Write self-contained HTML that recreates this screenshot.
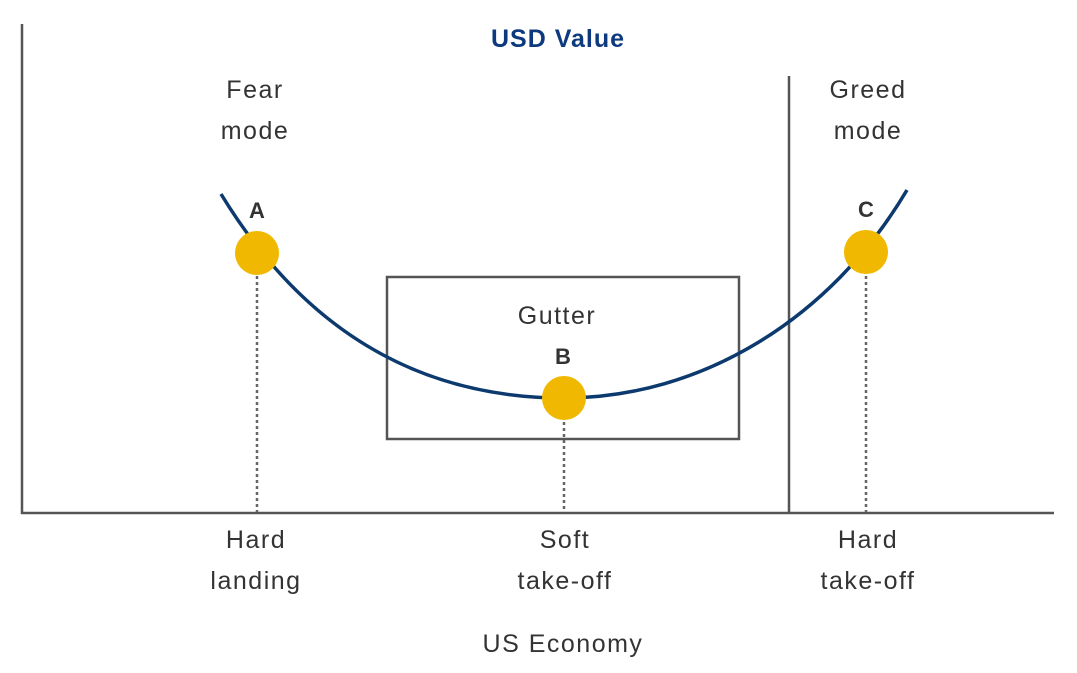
<!DOCTYPE html>
<html><head><style>
body{margin:0;background:#fff;}
svg text{font-family:"Liberation Sans",sans-serif;}
</style></head><body>
<svg width="1077" height="668" viewBox="0 0 1077 668" xmlns="http://www.w3.org/2000/svg">
<rect width="1077" height="668" fill="#fff"/>
<g stroke="#555" stroke-width="2.5" fill="none">
<line x1="22" y1="24" x2="22" y2="514"/>
<line x1="21" y1="513" x2="1054" y2="513"/>
<line x1="789" y1="76" x2="789" y2="513"/>
<rect x="387" y="277" width="352" height="162"/>
</g>
<g stroke="#666" stroke-width="2.5" stroke-dasharray="3,3">
<line x1="257" y1="270" x2="257" y2="512"/>
<line x1="564" y1="416" x2="564" y2="512"/>
<line x1="866" y1="270" x2="866" y2="512"/>
</g>
<path d="M221,194 C310,340 430,398 564,398 C700,398 830,320 907,190" stroke="#0d3a6e" stroke-width="3.5" fill="none"/>
<g fill="#f0b800">
<circle cx="257" cy="253" r="22"/>
<circle cx="564" cy="398" r="22"/>
<circle cx="866" cy="252" r="22"/>
</g>
<g font-size="25" fill="#333" text-anchor="middle" letter-spacing="1.5">
<text x="558" y="47" fill="#0d3a7e" font-weight="bold" letter-spacing="1">USD Value</text>
<text x="255" y="98">Fear</text>
<text x="255" y="139">mode</text>
<text x="868" y="98">Greed</text>
<text x="868" y="139">mode</text>
<text x="557" y="324">Gutter</text>
<text x="256" y="548">Hard</text>
<text x="256" y="589">landing</text>
<text x="565" y="548">Soft</text>
<text x="565" y="589">take-off</text>
<text x="868" y="548">Hard</text>
<text x="868" y="589">take-off</text>
<text x="563" y="652">US Economy</text>
</g>
<g font-size="22" font-weight="bold" fill="#333" text-anchor="middle">
<text x="257" y="218">A</text>
<text x="563" y="364">B</text>
<text x="866" y="217">C</text>
</g>
</svg>
</body></html>
